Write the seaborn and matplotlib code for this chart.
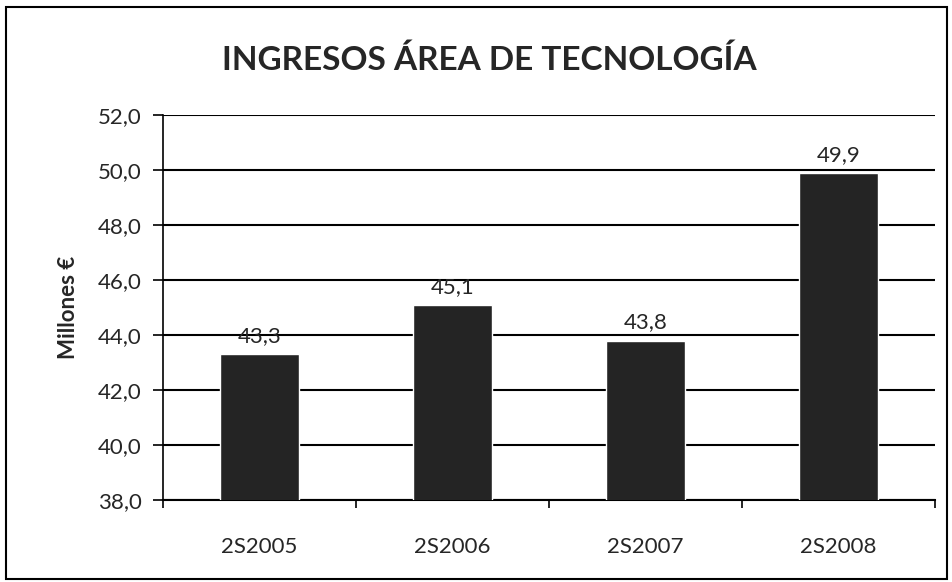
import matplotlib
matplotlib.use("Agg")
import matplotlib.pyplot as plt
import seaborn as sns
import pandas as pd
from matplotlib.patches import Rectangle
from matplotlib.ticker import FuncFormatter, FixedLocator

# Data
periodos = ["2S2005", "2S2006", "2S2007", "2S2008"]
ingresos = [43.3, 45.1, 43.8, 49.9]
y_ticks = [38, 40, 42, 44, 46, 48, 50, 52]

df = pd.DataFrame({"periodo": periodos, "ingresos": ingresos})

sns.set_style("white")
plt.rcParams["font.family"] = ["Lato", "DejaVu Sans"]

fig = plt.figure(figsize=(9.52, 5.82), dpi=100)
ax = fig.add_axes([0.171, 0.141, 0.811, 0.661])

sns.barplot(data=df, x="periodo", y="ingresos", color="#242424",
            width=0.41, saturation=1, ax=ax, zorder=3)

ax.set_ylim(38, 52)
ax.set_xlim(-0.5, 3.5)
ax.set_yticks(y_ticks)
ax.yaxis.set_major_formatter(FuncFormatter(lambda v, p: f"{v:.1f}".replace(".", ",")))
ax.yaxis.grid(True, color="black", linewidth=1.5, zorder=0)
ax.set_axisbelow(True)

# spines like Excel
for s in ["top", "right"]:
    ax.spines[s].set_visible(False)
ax.spines["left"].set_color("black")
ax.spines["left"].set_linewidth(1.2)
ax.spines["bottom"].set_color("black")
ax.spines["bottom"].set_linewidth(1.5)

ax.tick_params(axis="y", length=7, width=1.2, color="black", direction="out",
               pad=8, labelsize=16, left=True)
ax.tick_params(axis="x", which="major", length=0, pad=27, labelsize=16)
ax.xaxis.set_minor_locator(FixedLocator([-0.5, 0.5, 1.5, 2.5, 3.5]))
ax.tick_params(axis="x", which="minor", length=6, width=1.2, color="black",
               direction="out", bottom=True)

ax.set_xlabel("")
ax.set_ylabel("Millones €", fontsize=16, fontweight="bold", labelpad=14)

# data labels
for i, v in enumerate(ingresos):
    ax.text(i, v + 0.3, f"{v:.1f}".replace(".", ","), ha="center", va="bottom",
            fontsize=16, zorder=4)

fig.text(0.514, 0.897, "INGRESOS ÁREA DE TECNOLOGÍA", ha="center", va="center",
         fontsize=24, fontweight="bold")

# chart border
fig.patches.append(Rectangle((0.006, 0.006), 0.989, 0.982, transform=fig.transFigure,
                             fill=False, edgecolor="black", linewidth=1.5))

fig.savefig("out.png", dpi=100)
